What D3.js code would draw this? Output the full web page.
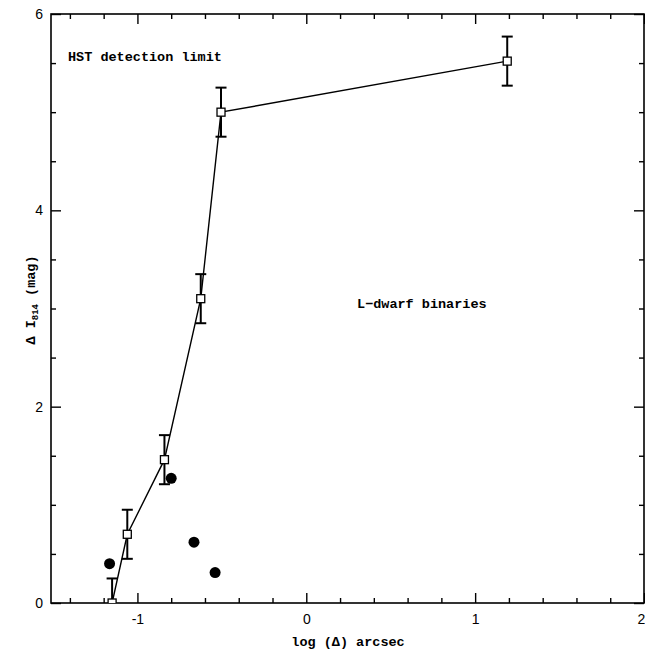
<!DOCTYPE html>
<html>
<head>
<meta charset="utf-8">
<script src="https://cdn.jsdelivr.net/npm/d3@7"></script>
<style>
  body { margin: 0; background: #fff; }
  svg { display: block; }
  .tick text { font-family: "Liberation Sans", Arial, sans-serif; font-size: 14px; fill: #000; }
  .lbl { font-family: "Liberation Mono", "Courier New", monospace; font-weight: bold; font-size: 13.5px; fill: #000; }
</style>
</head>
<body>
<svg id="chart" width="645" height="651"></svg>
<script>
// HST detection limit curve (squares with error bars)
const limitX = [-1.15, -1.06, -0.84, -0.625, -0.505, 1.19];
const limitY = [0.0, 0.70, 1.46, 3.10, 5.00, 5.52];
const limitErr = [0.25, 0.25, 0.25, 0.25, 0.25, 0.25];

// L-dwarf binaries (filled dots)
const binX = [-1.165, -0.80, -0.665, -0.54];
const binY = [0.40, 1.27, 0.62, 0.31];

const xMajor = [-1, 0, 1, 2];
const yMajor = [0, 2, 4, 6];

const svg = d3.select("#chart");

const x = d3.scaleLinear().domain([-1.5, 2]).range([53, 644]);
const y = d3.scaleLinear().domain([0, 6]).range([603, 14]);

// minor ticks: every 0.2 on x, every 0.5 on y
const xMinor = d3.range(-1.4, 2.0, 0.2).map(v => +v.toFixed(1)).filter(v => !xMajor.includes(v));
const yMinor = d3.range(0.5, 6, 0.5).filter(v => !yMajor.includes(v));

function drawAxis(axisFn, scale, vals, size, transform, pad) {
    const g = svg.append("g")
        .attr("transform", transform)
        .call(axisFn(scale).tickValues(vals).tickSizeInner(-size).tickSizeOuter(0)
            .tickPadding(pad || 0)
            .tickFormat(pad ? d => String(d) : () => ""));
    g.select(".domain").remove();
    g.selectAll(".tick line").attr("stroke", "#000").attr("stroke-width", 1.4);
    return g;
}

// bottom
const xAx = drawAxis(d3.axisBottom, x, xMajor, 10, `translate(0,603)`, 11);
drawAxis(d3.axisBottom, x, xMinor, 5, `translate(0,603)`, 0);
// the "2" sits on the page edge, as in the scan; nudge it so part stays visible
xAx.selectAll(".tick text").filter(d => d === 2).attr("dx", -3);
// top
drawAxis(d3.axisTop, x, xMajor, 10, `translate(0,14)`, 0);
drawAxis(d3.axisTop, x, xMinor, 5, `translate(0,14)`, 0);
// left
drawAxis(d3.axisLeft, y, yMajor, 10, `translate(51,0)`, 8);
drawAxis(d3.axisLeft, y, yMinor, 5, `translate(51,0)`, 0);
// right
drawAxis(d3.axisRight, y, yMajor, 10, `translate(644,0)`, 0);
drawAxis(d3.axisRight, y, yMinor, 5, `translate(644,0)`, 0);

// frame
svg.append("rect")
    .attr("x", 51).attr("y", 14)
    .attr("width", 644 - 51).attr("height", 603 - 14)
    .attr("fill", "none").attr("stroke", "#000").attr("stroke-width", 1.6);

// clip to plot area
svg.append("clipPath").attr("id", "clip")
    .append("rect").attr("x", 51).attr("y", 14).attr("width", 594).attr("height", 589);

const plot = svg.append("g").attr("clip-path", "url(#clip)");

const limitData = limitX.map((v, i) => ({ x: v, y: limitY[i], e: limitErr[i] }));

// connecting line
plot.append("path")
    .datum(limitData)
    .attr("fill", "none")
    .attr("stroke", "#000")
    .attr("stroke-width", 1.4)
    .attr("d", d3.line().x(d => x(d.x)).y(d => y(d.y)));

// error bars
const capW = 5.5;
const eb = plot.selectAll("g.err").data(limitData).join("g").attr("class", "err");
eb.append("line")
    .attr("x1", d => x(d.x)).attr("x2", d => x(d.x))
    .attr("y1", d => y(d.y - d.e)).attr("y2", d => y(d.y + d.e))
    .attr("stroke", "#000").attr("stroke-width", 2);
eb.append("line")
    .attr("x1", d => x(d.x) - capW).attr("x2", d => x(d.x) + capW)
    .attr("y1", d => y(d.y + d.e)).attr("y2", d => y(d.y + d.e))
    .attr("stroke", "#000").attr("stroke-width", 2);
eb.append("line")
    .attr("x1", d => x(d.x) - capW).attr("x2", d => x(d.x) + capW)
    .attr("y1", d => y(d.y - d.e)).attr("y2", d => y(d.y - d.e))
    .attr("stroke", "#000").attr("stroke-width", 2);

// open squares
const sq = 8;
plot.selectAll("rect.sq").data(limitData).join("rect")
    .attr("class", "sq")
    .attr("x", d => x(d.x) - sq / 2).attr("y", d => y(d.y) - sq / 2)
    .attr("width", sq).attr("height", sq)
    .attr("fill", "#fff").attr("stroke", "#000").attr("stroke-width", 1.3);

// binaries
plot.selectAll("circle.bin").data(binX.map((v, i) => [v, binY[i]])).join("circle")
    .attr("class", "bin")
    .attr("cx", d => x(d[0])).attr("cy", d => y(d[1]))
    .attr("r", 5.5).attr("fill", "#000");

// annotations
svg.append("text").attr("class", "lbl").attr("x", 68).attr("y", 61).text("HST detection limit");
svg.append("text").attr("class", "lbl").attr("x", 357).attr("y", 308).text("L\u2212dwarf binaries");

// axis titles
svg.append("text").attr("class", "lbl")
    .attr("x", 348).attr("y", 646)
    .attr("text-anchor", "middle")
    .text("log (\u0394) arcsec");

const yt = svg.append("text").attr("class", "lbl")
    .attr("transform", "translate(35,300) rotate(-90)")
    .attr("text-anchor", "middle");
yt.append("tspan").text("\u0394 I");
yt.append("tspan").attr("font-size", "9px").attr("dy", 3).text("814");
yt.append("tspan").attr("dy", -3).text(" (mag)");
</script>
</body>
</html>
